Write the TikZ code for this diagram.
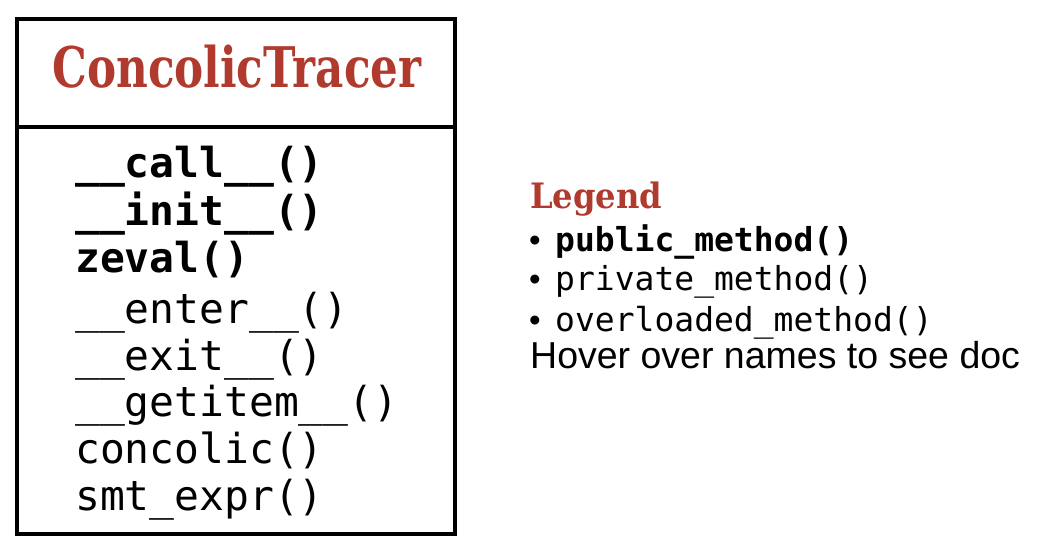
\documentclass[tikz,border=0pt]{standalone}
\usepackage{fontspec}
\setmainfont{Liberation Sans}
\newfontfamily\slabfont[FakeStretch=0.78]{DejaVu Serif}
\newfontfamily\slabwidefont[FakeStretch=0.92]{DejaVu Serif}
\newfontfamily\codefont{DejaVu Sans Mono}
\definecolor{titlered}{RGB}{176,58,46}
\tikzset{
  classbox/.style={draw, line width=4pt, minimum width=438pt, minimum height=515pt, inner sep=0},
  classname/.style={font=\slabfont\bfseries\fontsize{56}{56}\selectfont, text=titlered, inner sep=0, anchor=base},
  legendhead/.style={font=\slabwidefont\bfseries\fontsize{35}{35}\selectfont, text=titlered, inner sep=0, anchor=base west},
  privmethod/.style={font=\codefont\fontsize{41.3}{41.3}\selectfont, inner sep=0, anchor=base west},
  pubmethod/.style={font=\codefont\bfseries\fontsize{41.3}{41.3}\selectfont, inner sep=0, anchor=base west},
  legendline/.style={font=\codefont\fontsize{33}{33}\selectfont, inner sep=0, anchor=base west},
  legendbold/.style={font=\codefont\bfseries\fontsize{33}{33}\selectfont, inner sep=0, anchor=base west},
  bulletmark/.style={font=\fontsize{33}{33}\selectfont, inner sep=0, anchor=base west},
  hint/.style={font=\fontsize{37.5}{37.5}\selectfont, inner sep=0, anchor=base west}
}
\begin{document}
\begin{tikzpicture}[x=1pt,y=-1pt]
\useasboundingbox (0,0) rectangle (1042,554);
% class box with name compartment and method compartment
\node[classbox] (cls) at (236,276.5) {};
\coordinate (divl) at (17,127);
\coordinate (divr) at (455,127);
\draw[line width=4pt] (divl -| cls.west) -- (divr -| cls.east);
\node[classname] (name) at (237,87) {ConcolicTracer};
% methods
\node[pubmethod] (m1) at (75,177) {\_\_call\_\_()};
\node[pubmethod] (m2) at (75,225) {\_\_init\_\_()};
\node[pubmethod] (m3) at (75,272) {zeval()};
\node[privmethod] (m4) at (75,323) {\_\_enter\_\_()};
\node[privmethod] (m5) at (75,370) {\_\_exit\_\_()};
\node[privmethod] (m6) at (75,416) {\_\_getitem\_\_()};
\node[privmethod] (m7) at (75,463) {concolic()};
\node[privmethod] (m8) at (75,510) {smt\_expr()};
% legend
\node[legendhead] (lg) at (530,208) {Legend};
\node[bulletmark] (b1) at (529,251) {•};
\node[legendbold] (l1) at (555,251) {public\_method()};
\node[bulletmark] (b2) at (529,290) {•};
\node[legendline] (l2) at (555,290) {private\_method()};
\node[bulletmark] (b3) at (529,331) {•};
\node[legendline] (l3) at (555,331) {overloaded\_method()};
\node[hint] (hv) at (530,368) {Hover over names to see doc};
\end{tikzpicture}
\end{document}
